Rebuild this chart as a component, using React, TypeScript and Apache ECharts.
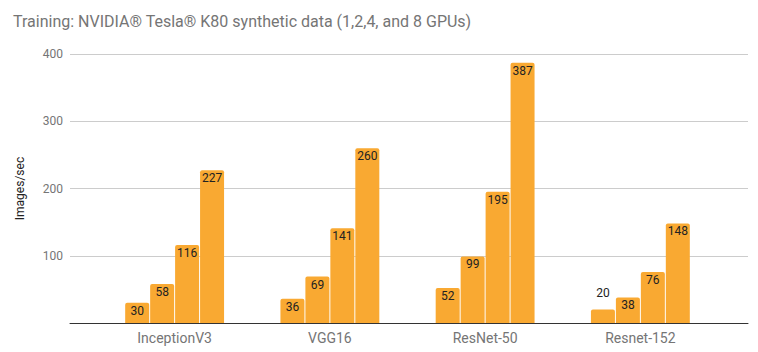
import React, { useEffect, useRef } from "react";
import * as echarts from "echarts";

const title = "Training: NVIDIA® Tesla® K80 synthetic data (1,2,4, and 8 GPUs)";
const models = ["InceptionV3", "VGG16", "ResNet-50", "Resnet-152"];
const seriesNames = ["1 GPU", "2 GPUs", "4 GPUs", "8 GPUs"];
const gpu1 = [30, 36, 52, 20];
const gpu2 = [58, 69, 99, 38];
const gpu4 = [116, 141, 195, 76];
const gpu8 = [227, 260, 387, 148];
const yTicks = [0, 100, 200, 300, 400];

const BAR = "#F9A932";

export default function App() {
  const ref = useRef<HTMLDivElement>(null);
  useEffect(() => {
    const chart = echarts.init(ref.current!, null, { renderer: "svg" });
    const all = [gpu1, gpu2, gpu4, gpu8];
    const font = "Roboto, 'Noto Sans', sans-serif";
    chart.setOption({
      animation: false,
      textStyle: { fontFamily: font },
      title: {
        text: title,
        left: 8,
        top: 8,
        textStyle: { fontSize: 16, color: "#757575", fontWeight: "normal", fontFamily: font },
      },
      grid: [
        { left: 70, right: 10, top: 54, bottom: 29 },
        { left: 97, right: 40, top: 54, bottom: 29 },
      ],
      xAxis: [
        {
          gridIndex: 0,
          type: "category",
          data: [""],
          axisLine: { show: true, lineStyle: { color: "#333", width: 1 } },
          axisTick: { show: false },
          axisLabel: { show: false },
        },
        {
          gridIndex: 1,
          type: "category",
          data: models,
          axisLine: { show: false },
          axisTick: { show: false },
          axisLabel: { color: "#757575", fontSize: 14, margin: 8, fontFamily: font },
        },
      ],
      yAxis: [
        {
          gridIndex: 0,
          type: "value",
          min: yTicks[0],
          max: yTicks[yTicks.length - 1],
          interval: 100,
          name: "Images/sec",
          nameLocation: "middle",
          nameGap: 44,
          nameRotate: 90,
          nameTextStyle: { color: "#222", fontSize: 12, fontFamily: font },
          axisLine: { show: false },
          axisTick: { show: false },
          axisLabel: {
            color: "#757575",
            fontSize: 12,
            margin: 7,
            showMinLabel: false,
            fontFamily: font,
          },
          splitLine: { lineStyle: { color: "#cccccc", width: 1 } },
        },
        {
          gridIndex: 1,
          type: "value",
          min: yTicks[0],
          max: yTicks[yTicks.length - 1],
          interval: 100,
          show: false,
          splitLine: { show: false },
        },
      ],
      series: all.map((vals, i) => ({
        name: seriesNames[i],
        type: "bar",
        xAxisIndex: 1,
        yAxisIndex: 1,
        barWidth: 24,
        barGap: "4%",
        itemStyle: { color: BAR, borderRadius: [2, 2, 0, 0] },
        label: {
          show: true,
          position: "insideTop",
          distance: 2,
          color: "#222",
          fontSize: 12,
          fontFamily: font,
        },
        data: vals.map((v) =>
          v < 25 ? { value: v, label: { position: "top", distance: 11 } } : v
        ),
      })),
    });
    return () => chart.dispose();
  }, []);
  return <div ref={ref} style={{ width: 758, height: 352, position: "absolute", left: 0, top: 0 }} />;
}
